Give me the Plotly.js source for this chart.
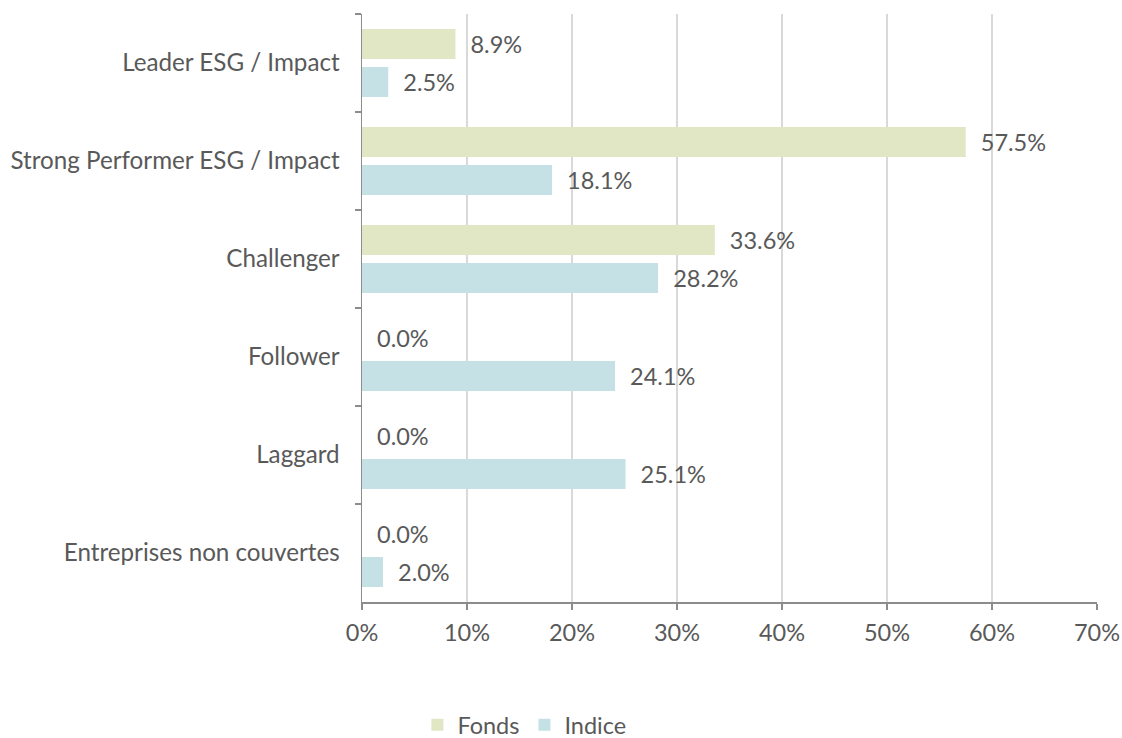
<!DOCTYPE html>
<html>
<head>
<meta charset="utf-8">
<script src="https://cdn.plot.ly/plotly-3.0.1.min.js"></script>
<style>html,body{margin:0;padding:0;background:#fff;}#chart{width:1122px;height:738px;}</style>
</head>
<body>
<div id="chart"></div>
<script>
const categories = ["Leader ESG / Impact", "Strong Performer ESG / Impact", "Challenger", "Follower", "Laggard", "Entreprises non couvertes"];
const fonds = [8.9, 57.5, 33.6, 0.0, 0.0, 0.0];
const indice = [2.5, 18.1, 28.2, 24.1, 25.1, 2.0];
const seriesNames = ["Fonds", "Indice"];
const xTickVals = [0, 10, 20, 30, 40, 50, 60, 70];
const xTickText = ["0%", "10%", "20%", "30%", "40%", "50%", "60%", "70%"];

const textColor = "#595959";
const fs = 23.5;
const pad = "\u00a0\u00a0";
function mk(name, vals, color) {
  return {
    type: "bar", orientation: "h", name: name,
    x: vals, y: categories,
    marker: {color: color},
    text: vals.map(v => pad + v.toFixed(1) + "%"),
    textposition: "outside",
    textfont: {family: "Lato", size: fs, color: textColor},
    cliponaxis: false,
    hoverinfo: "none"
  };
}
const data = [mk(seriesNames[0], fonds, "#e1e6c4"), mk(seriesNames[1], indice, "#c5e1e6")];
const layout = {
  width: 1122, height: 738,
  margin: {l: 362, r: 25, t: 14, b: 136},
  paper_bgcolor: "#fff", plot_bgcolor: "#fff",
  font: {family: "Lato", size: fs, color: textColor},
  barmode: "group", bargap: 0.224, bargroupgap: 0.21,
  showlegend: true,
  legend: {orientation: "h", xref: "container", yref: "container", x: 0.372, xanchor: "left", y: 0.0175, yanchor: "middle",
           font: {family: "Lato", size: fs, color: textColor}, traceorder: "normal", itemwidth: 30},
  xaxis: {
    range: [0, 70], tickvals: xTickVals, ticktext: xTickText,
    showgrid: true, gridcolor: "#d9d9d9", gridwidth: 1.5,
    zeroline: false, showline: true, linecolor: "#8c8c8c", linewidth: 1.5,
    ticks: "outside", ticklen: 6, tickcolor: "#8c8c8c", tickwidth: 1.5,
    tickfont: {family: "Lato", size: fs, color: textColor}, ticklabelstandoff: 3,
    fixedrange: true, automargin: false
  },
  yaxis: {
    type: "category", autorange: "reversed",
    showline: true, linecolor: "#8c8c8c", linewidth: 1.5,
    ticks: "outside", tickson: "boundaries", ticklen: 6, tickcolor: "#8c8c8c", tickwidth: 1.5,
    showgrid: false,
    tickfont: {family: "Lato", size: 24.2, color: textColor},
    ticklabelstandoff: 16, fixedrange: true, automargin: false
  }
};
Plotly.newPlot("chart", data, layout, {displayModeBar: false, staticPlot: true});
</script>
</body>
</html>
